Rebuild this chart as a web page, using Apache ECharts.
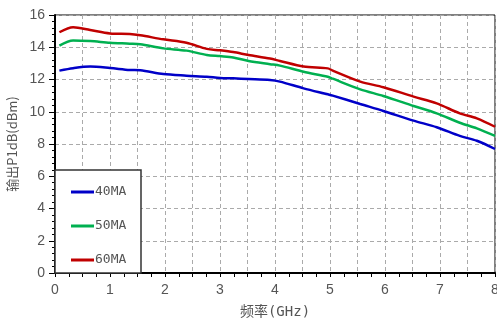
<!DOCTYPE html>
<html><head><meta charset="utf-8">
<script src="https://cdn.jsdelivr.net/npm/echarts@6/dist/echarts.min.js"></script>
<style>html,body{margin:0;padding:0;background:#fff}#c{width:497px;height:321px}</style>
</head><body><div id="c"></div>
<script>
const freq = [0.08, 0.33, 0.64, 1.0, 1.36, 1.55, 1.97, 2.39, 2.76, 3.0, 3.24, 3.52, 3.91, 4.09, 4.52, 4.96, 5.05, 5.55, 5.97, 6.52, 6.94, 7.36, 7.67, 8.0];
const s40 = [12.55, 12.7, 12.8, 12.71, 12.59, 12.57, 12.34, 12.24, 12.17, 12.1, 12.07, 12.03, 11.97, 11.87, 11.45, 11.08, 11.0, 10.48, 10.05, 9.45, 9.04, 8.5, 8.2, 7.69];
const s50 = [14.1, 14.42, 14.38, 14.28, 14.22, 14.18, 13.93, 13.79, 13.52, 13.45, 13.37, 13.15, 12.95, 12.86, 12.48, 12.17, 12.05, 11.39, 10.98, 10.36, 9.9, 9.32, 8.97, 8.5];
const s60 = [14.93, 15.24, 15.07, 14.86, 14.82, 14.74, 14.49, 14.28, 13.9, 13.81, 13.7, 13.52, 13.3, 13.15, 12.8, 12.69, 12.55, 11.87, 11.52, 10.94, 10.52, 9.9, 9.59, 9.07];
const seriesNames = ['40MA', '50MA', '60MA'];
const colors = ['#0000c8', '#00b050', '#c00000'];
const xTitle = '频率(GHz)';
const yTitle = '输出P1dB(dBm)';

const chart = echarts.init(document.getElementById('c'));
const mk = (vals) => freq.map((f, i) => [f, vals[i]]);
const lbl = {color: '#555', fontSize: 14, fontFamily: 'Liberation Sans, Arial, sans-serif'};
const mono = {color: '#555', fontSize: 14, fontFamily: 'DejaVu Sans Mono, Noto Sans CJK SC, monospace'};
chart.setOption({
  animation: false,
  grid: {left: 55, right: 2, top: 15, bottom: 48, show: true, borderColor: '#000', borderWidth: 1, outerBoundsMode: 'none', containLabel: false},
  legend: {
    data: seriesNames, orient: 'vertical', left: 66, top: 180, itemGap: 20,
    itemWidth: 23, itemHeight: 3, icon: 'rect',
    textStyle: Object.assign({}, mono, {fontSize: 13, lineHeight: 14, padding: [0, 0, 0, -4]})
  },
  graphic: [{type: 'rect', shape: {x: 55, y: 170, width: 86, height: 103}, style: {fill: '#fff', stroke: '#333', lineWidth: 1.5}, z: 1}],
  xAxis: {
    type: 'value', min: 0, max: 8, interval: 0.5,
    name: xTitle, nameLocation: 'middle', nameGap: 32, nameTextStyle: mono,
    axisLine: {lineStyle: {color: '#000', width: 2}},
    axisTick: {show: true, length: 4, lineStyle: {color: '#000'}},
    minorTick: {show: true, splitNumber: 2, length: 4, lineStyle: {color: '#000'}},
    axisLabel: Object.assign({}, lbl, {margin: 10, formatter: v => Number.isInteger(v) ? String(v) : ''}),
    splitLine: {show: true, lineStyle: {color: '#aaa', type: [4, 3]}}
  },
  yAxis: {
    type: 'value', min: 0, max: 16, interval: 2,
    name: yTitle, nameLocation: 'middle', nameGap: 32,
    nameTextStyle: {color: '#555', fontSize: 13, fontFamily: 'Noto Sans CJK SC, sans-serif'},
    axisLine: {show: true, lineStyle: {color: '#000', width: 2}},
    axisTick: {show: true, length: 6, lineStyle: {color: '#000'}},
    minorTick: {show: true, splitNumber: 5, length: 3, lineStyle: {color: '#000'}},
    axisLabel: Object.assign({}, lbl, {margin: 10}),
    splitLine: {show: true, lineStyle: {color: '#aaa', type: [4, 3]}}
  },
  series: [s40, s50, s60].map((v, i) => ({
    name: seriesNames[i], type: 'line', data: mk(v), smooth: 0.3, showSymbol: false,
    lineStyle: {color: colors[i], width: 2.5}, itemStyle: {color: colors[i]}, z: 3
  }))
});
</script></body></html>
